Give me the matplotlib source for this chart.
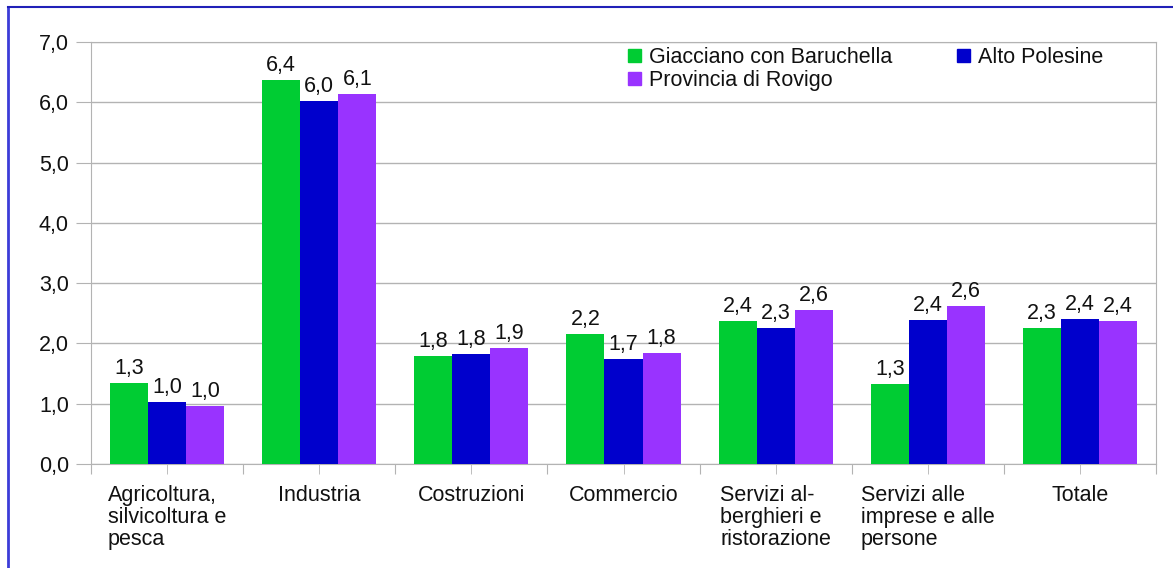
import numpy as np
import matplotlib.pyplot as plt
from matplotlib.patches import Patch
from matplotlib.lines import Line2D

plt.rcParams['font.family'] = ['Liberation Sans', 'DejaVu Sans']

categories = ["Agricoltura,\nsilvicoltura e\npesca", "Industria", "Costruzioni", "Commercio",
              "Servizi al-\nberghieri e\nristorazione", "Servizi alle\nimprese e alle\npersone", "Totale"]
series_names = ["Giacciano con Baruchella", "Alto Polesine", "Provincia di Rovigo"]
giacciano = [1.34, 6.37, 1.79, 2.16, 2.37, 1.33, 2.26]
alto_polesine = [1.03, 6.02, 1.82, 1.74, 2.26, 2.39, 2.40]
provincia = [0.96, 6.14, 1.92, 1.84, 2.56, 2.62, 2.37]
colors = ["#00cc33", "#0000cc", "#9933ff"]

fs = 15.5

fig = plt.figure(figsize=(11.73, 5.68), dpi=100)
ax = fig.add_axes([91 / 1173, 1 - 464 / 568, (1156 - 91) / 1173, (464 - 42) / 568])

x = np.arange(len(categories))
w = 0.25
for i, (vals, name, c) in enumerate(zip([giacciano, alto_polesine, provincia], series_names, colors)):
    b = ax.bar(x + (i - 1) * w, vals, w, color=c, label=name, zorder=3)
    ax.bar_label(b, labels=[f"{v:.1f}".replace('.', ',') for v in vals], padding=3, fontsize=fs, color="#111111")

ax.set_xlim(-0.5, len(categories) - 0.5)
ax.set_ylim(0, 7)
yt = np.arange(0, 8)
ax.set_yticks(yt)
ax.set_yticklabels([f"{v:.1f}".replace('.', ',') for v in yt], fontsize=fs)
ax.yaxis.grid(True, color="#b3b3b3", lw=1, zorder=0)

ax.set_xticks(np.arange(-0.5, len(categories)), minor=False)
ax.set_xticklabels([])
ax.set_xticks(x, minor=True)
ax.set_xticklabels(categories, minor=True, fontsize=fs, ha='center', multialignment='left', linespacing=1.08)
ax.tick_params(axis='x', which='both', length=7, color="#b3b3b3", pad=8)
ax.tick_params(axis='y', length=11, color="#b3b3b3", pad=5, labelcolor="#111111")
ax.tick_params(axis='x', which='minor', labelcolor="#111111")
for s in ax.spines.values():
    s.set_color("#b3b3b3")

handles = [Patch(color=colors[0]), Patch(color=colors[2]), Patch(color=colors[1])]
labels = [series_names[0], series_names[2], series_names[1]]
leg = fig.legend(handles, labels, loc='upper left', bbox_to_anchor=(628 / 1173, 1 - 47 / 568), ncol=2,
                 frameon=False, fontsize=fs, handlelength=0.6, handleheight=0.6, handletextpad=0.37,
                 columnspacing=3.0, labelspacing=0.1, borderpad=0, borderaxespad=0)
for t in leg.get_texts():
    t.set_color("#111111")

# bordo blu in alto e a sinistra
fig.add_artist(Line2D([8 / 1173, 8 / 1173], [0, 1 - 7 / 568], color="#3c3cd8", lw=2, transform=fig.transFigure))
fig.add_artist(Line2D([8 / 1173, 1], [1 - 7 / 568, 1 - 7 / 568], color="#2020b8", lw=1.5, transform=fig.transFigure))

fig.savefig("out.png", dpi=100)
